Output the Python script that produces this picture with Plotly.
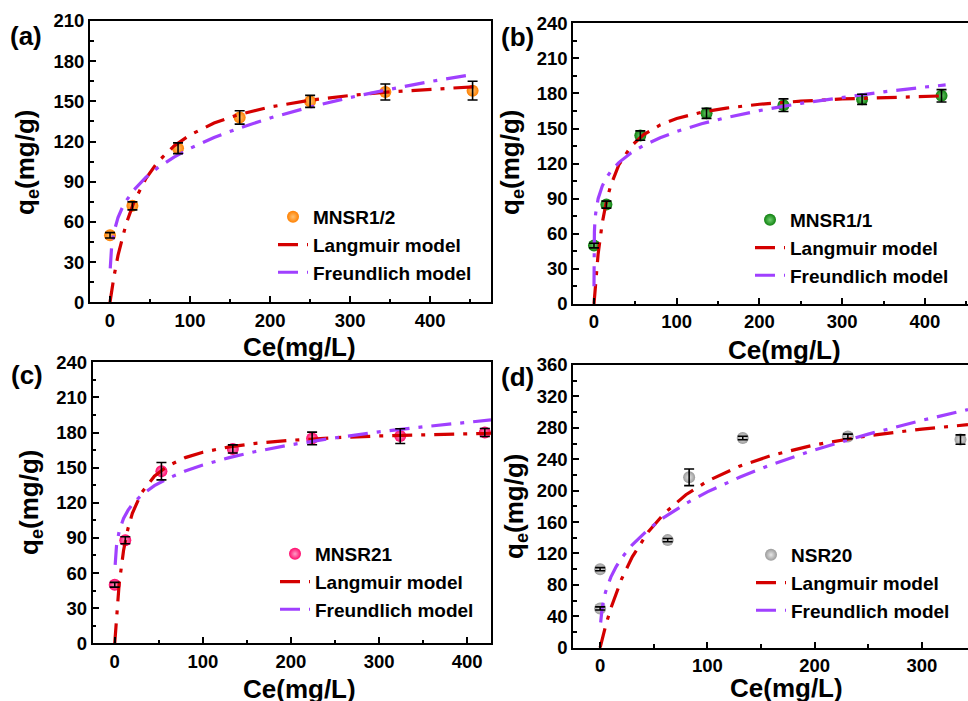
import plotly.graph_objects as go

# ---------------- data ----------------
# (a) MNSR1/2
a_ce = [0, 28, 85, 162, 250, 344, 453]
a_qe = [50, 72, 115, 138, 150, 157, 158]
a_err = [2, 3, 4, 5, 4.5, 6, 7]
a_lang_x = [0, 2, 5, 10, 15, 20, 30, 45, 60, 80, 100, 130, 160, 200, 250, 300, 350, 400, 455]
a_lang_y = [0, 8.3, 19.4, 35, 47.7, 58.3, 75, 92.6, 105, 116.7, 125, 133.8, 140, 145.8, 150.9, 154.4, 157.1, 159.1, 160.9]
a_freu_x = [0.3, 1, 2, 5, 10, 15, 20, 30, 45, 60, 80, 100, 130, 160, 200, 250, 300, 350, 400, 455]
a_freu_y = [25.4, 34.7, 41.5, 52.7, 63.2, 70.2, 75.6, 84.0, 93.4, 100.6, 108.4, 114.9, 123.0, 129.8, 137.6, 145.8, 152.9, 159.1, 164.8, 170.3]

# (b) MNSR1/1
b_ce = [0, 15, 56, 136, 229, 324, 420]
b_qe = [50, 85, 144, 163, 170, 175, 178]
b_err = [2, 3, 4, 4.3, 5.4, 4.3, 5.3]
b_lang_x = [0, 2, 5, 10, 15, 20, 30, 45, 60, 80, 100, 130, 160, 200, 250, 300, 350, 400, 425]
b_lang_y = [0, 19.8, 42.7, 69.4, 87.6, 100.9, 118.9, 135, 144.8, 153.1, 158.6, 164, 167.5, 170.8, 173.4, 175.3, 176.6, 177.6, 178]
b_freu_x = [0.0001, 0.01, 0.1, 0.5, 1, 2, 5, 10, 15, 20, 30, 45, 60, 80, 100, 130, 160, 200, 250, 300, 350, 400, 425]
b_freu_y = [15.1, 32.3, 47.2, 61.5, 69, 77.3, 90.0, 100.9, 107.9, 113.1, 120.9, 129.3, 135.6, 142.2, 147.5, 154.1, 159.4, 165.4, 171.6, 176.8, 181.4, 185.5, 187.3]

# (c) MNSR21
c_ce = [0, 12, 53, 134, 224, 324, 420]
c_qe = [50, 88, 147, 166, 175, 177, 180]
c_err = [2, 3, 7.4, 3.5, 5.4, 6.3, 3.4]
c_lang_x = [0, 2, 5, 10, 15, 20, 30, 45, 60, 80, 100, 130, 160, 200, 250, 300, 350, 400, 427]
c_lang_y = [0, 24.1, 50.5, 79.3, 97.9, 111, 128.1, 142.7, 151.4, 158.6, 163.2, 167.8, 170.8, 173.4, 175.6, 177.1, 178.2, 179, 179.4]
c_freu_x = [0.5, 1, 2, 5, 10, 15, 20, 30, 45, 60, 80, 100, 130, 160, 200, 250, 300, 350, 400, 427]
c_freu_y = [67, 74.6, 83.1, 95.7, 106.6, 113.5, 118.7, 126.4, 134.6, 140.7, 147.1, 152.3, 158.6, 163.8, 169.6, 175.5, 180.6, 184.9, 188.9, 190.8]

# (d) NSR20
d_ce = [0, 0, 63, 83, 133, 231, 336]
d_qe = [50, 100, 137, 217, 267, 269, 265]
d_err = [2, 2, 2, 10.6, 2.2, 3, 6]
d_lang_x = [0, 2, 5, 10, 15, 20, 30, 45, 60, 80, 100, 130, 160, 200, 250, 300, 343]
d_lang_y = [0, 11.5, 27.2, 50.3, 70.2, 87.4, 115.7, 147.7, 171.3, 194.8, 212.1, 231.2, 244.9, 258.3, 270, 278.4, 284]
d_freu_x = [0.5, 1, 2, 5, 10, 15, 20, 30, 45, 60, 80, 100, 130, 160, 200, 250, 300, 343]
d_freu_y = [32.1, 40.7, 51.7, 70.8, 89.9, 103.3, 114.1, 131.1, 150.8, 166.4, 183.7, 198.4, 217.1, 233.3, 251.9, 272.0, 289.5, 303.2]

panels = [
    dict(name="MNSR1/2", label="(a)", ce=a_ce, qe=a_qe, err=a_err, lx=a_lang_x, ly=a_lang_y, fx=a_freu_x, fy=a_freu_y,
         color="#ff8000", center="#ffc070"),
    dict(name="MNSR1/1", label="(b)", ce=b_ce, qe=b_qe, err=b_err, lx=b_lang_x, ly=b_lang_y, fx=b_freu_x, fy=b_freu_y,
         color="#0f800f", center="#70d070"),
    dict(name="MNSR21", label="(c)", ce=c_ce, qe=c_qe, err=c_err, lx=c_lang_x, ly=c_lang_y, fx=c_freu_x, fy=c_freu_y,
         color="#ff0a6c", center="#ff9cc6"),
    dict(name="NSR20", label="(d)", ce=d_ce, qe=d_qe, err=d_err, lx=d_lang_x, ly=d_lang_y, fx=d_freu_x, fy=d_freu_y,
         color="#9a9a9a", center="#e6e6e6"),
]

W, H = 968, 701
# plot-area boxes in pixels: (left, right, top, bottom)
boxes = [(90, 491, 21, 302.3), (573.3, 968, 23.3, 304), (92.7, 491, 362.3, 643.3), (573.3, 968, 365, 647.7)]
xranges = [[-25, 476], [-25, 452], [-25, 427], [-25, 343]]
yranges = [[0, 210], [0, 240], [0, 240], [0, 360]]
ydticks = [30, 30, 30, 40]
ytitle_pos = [(26, 163), (511, 163), (30, 503), (515, 507)]
xtitle_pos = [(299, 347), (784, 350), (299, 689), (786, 688)]
label_pos = [(26, 36), (517, 37), (27, 375), (517, 377)]
legend_pos = [(273, 198), (750, 201), (275, 535), (751, 536)]

RED = "#d40000"
PURPLE = "#a040ff"
DASH = "20px,9px,4px,9px"
FONT = "Liberation Sans"

fig = go.Figure()
layout = dict(width=W, height=H, margin=dict(l=0, r=0, t=0, b=0, pad=0, autoexpand=False),
              paper_bgcolor="white", plot_bgcolor="white", showlegend=True)
annotations = []

for i, p in enumerate(panels):
    n = "" if i == 0 else str(i + 1)
    xa, ya = "x" + n, "y" + n
    leg = "legend" + n
    fig.add_trace(go.Scatter(x=p["ce"], y=p["qe"], mode="markers", name=p["name"],
                             marker=dict(size=12, color=p["color"],
                                         gradient=dict(type="radial", color=p["center"]),
                                         line=dict(width=0)),
                             xaxis=xa, yaxis=ya, legend=leg))
    fig.add_trace(go.Scatter(x=p["lx"], y=p["ly"], mode="lines", name="Langmuir model",
                             line=dict(color=RED, width=3.2, dash=DASH),
                             xaxis=xa, yaxis=ya, legend=leg))
    fig.add_trace(go.Scatter(x=p["fx"], y=p["fy"], mode="lines", name="Freundlich model",
                             line=dict(color=PURPLE, width=3.2, dash=DASH),
                             xaxis=xa, yaxis=ya, legend=leg))
    fig.add_trace(go.Scatter(x=p["ce"], y=p["qe"], mode="markers", showlegend=False,
                             marker=dict(size=1, color="rgba(0,0,0,0)"),
                             error_y=dict(type="data", array=p["err"], visible=True,
                                          color="black", thickness=1.6, width=5),
                             xaxis=xa, yaxis=ya, legend=leg, hoverinfo="skip"))

    l, r, t, b = boxes[i]
    right_edge = r >= W - 1
    axis_common = dict(showline=True, linecolor="black", linewidth=2, ticks="inside",
                       ticklen=6, tickwidth=1.5, tickcolor="black", showgrid=False, zeroline=False,
                       automargin=False,
                       tickfont=dict(family=FONT, size=18.5, color="black", weight="bold"))
    layout["xaxis" + n] = dict(domain=[l / W, min(r / W, 1.0)], range=xranges[i],
                               anchor=ya, mirror=True, dtick=100, tick0=0,
                               minor=dict(ticks="inside", ticklen=3.5, tickcolor="black", dtick=50, tick0=0),
                               **axis_common)
    layout["yaxis" + n] = dict(domain=[1 - b / H, 1 - t / H], range=yranges[i],
                               anchor=xa, mirror=(not right_edge), dtick=ydticks[i], tick0=0,
                               minor=dict(ticks="inside", ticklen=3.5, tickcolor="black",
                                          dtick=ydticks[i] / 2, tick0=0),
                               **axis_common)
    lx, ly = legend_pos[i]
    layout[leg] = dict(x=lx / W, y=1 - ly / H, xanchor="left", yanchor="top",
                       bgcolor="rgba(0,0,0,0)", borderwidth=0, tracegroupgap=0,
                       font=dict(family=FONT, size=19, color="black", weight="bold"))

    tx, ty = ytitle_pos[i]
    annotations.append(dict(text="q<sub>e</sub>(mg/g)", x=tx / W, y=1 - ty / H, xref="paper", yref="paper",
                            showarrow=False, textangle=-90, xanchor="center", yanchor="middle",
                            font=dict(family=FONT, size=26, color="black", weight="bold")))
    tx, ty = xtitle_pos[i]
    annotations.append(dict(text="Ce(mg/L)", x=tx / W, y=1 - ty / H, xref="paper", yref="paper",
                            showarrow=False, xanchor="center", yanchor="middle",
                            font=dict(family=FONT, size=26, color="black", weight="bold")))
    tx, ty = label_pos[i]
    annotations.append(dict(text=p["label"], x=tx / W, y=1 - ty / H, xref="paper", yref="paper",
                            showarrow=False, xanchor="center", yanchor="middle",
                            font=dict(family=FONT, size=26, color="black", weight="bold")))

layout["annotations"] = annotations
fig.update_layout(**layout)
fig.write_html("out.html", config={"displayModeBar": False},
               post_script="document.body.style.margin='0';document.body.style.overflow='hidden';")
